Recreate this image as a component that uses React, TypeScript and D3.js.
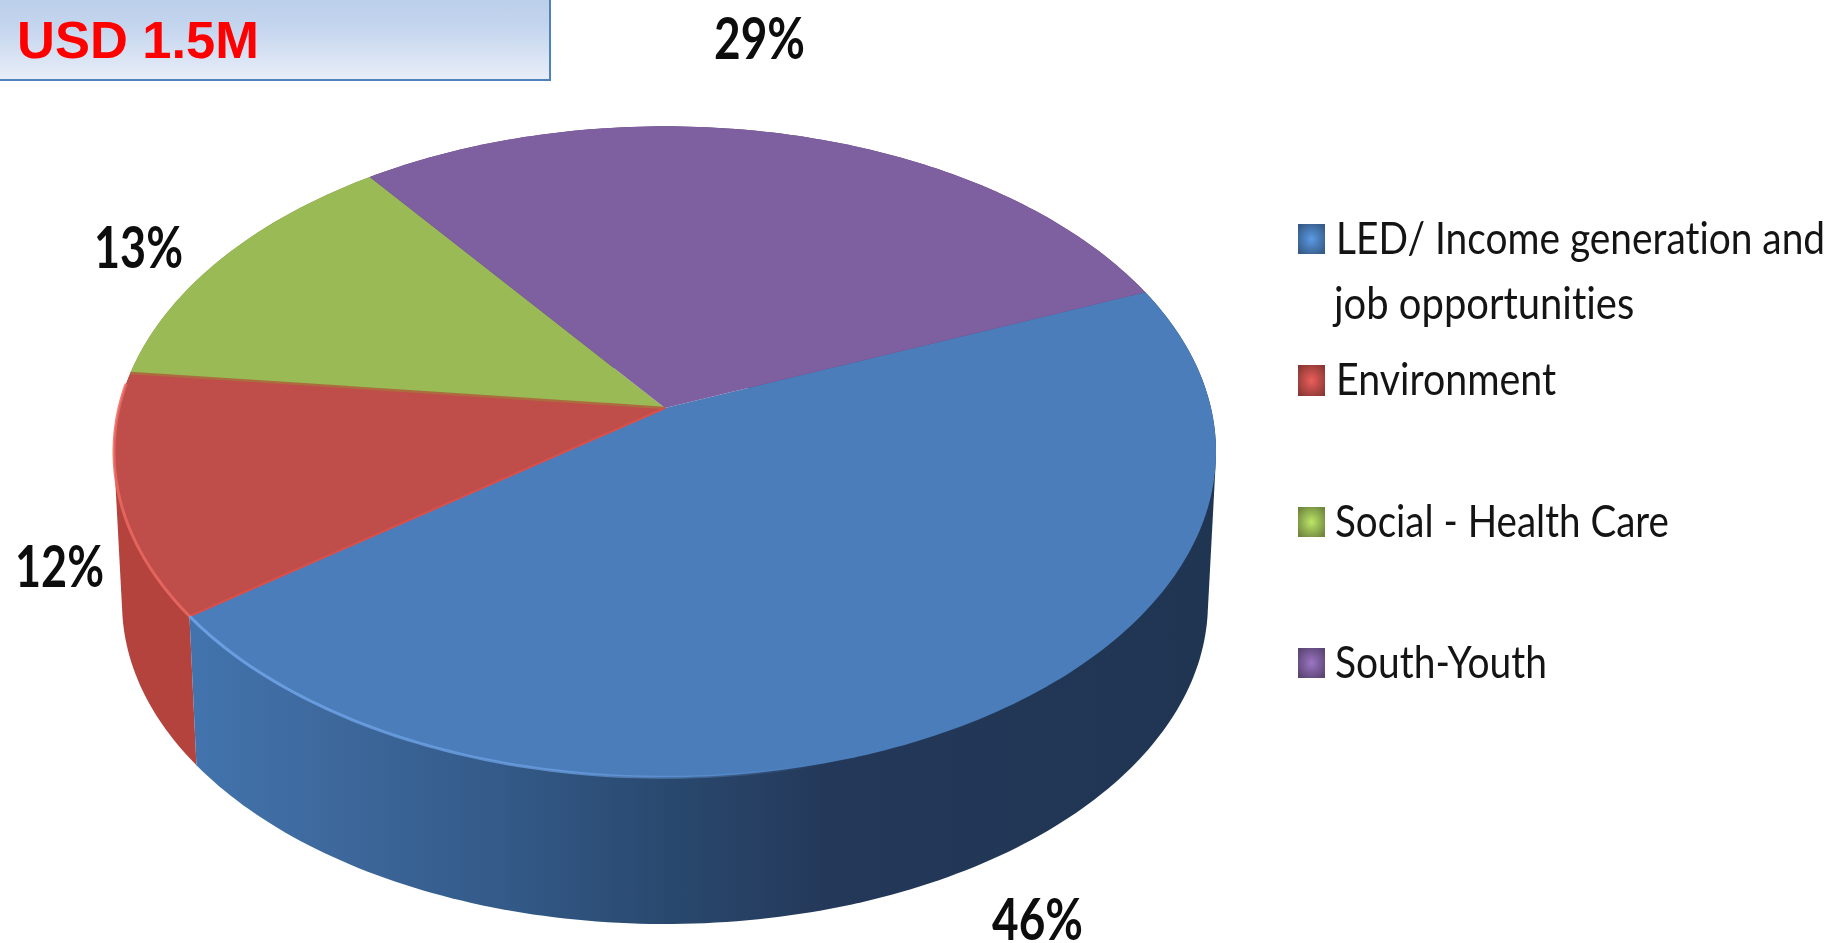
import * as d3 from "d3";

// Chart data
const categories = ["LED/ Income generation and job opportunities", "Environment", "Social - Health Care", "South-Youth"];
const shares = [46, 12, 13, 29];
const shareLabels = ["46%", "12%", "13%", "29%"];
const faceColors = ["#4a7dba", "#bf4d49", "#99ba55", "#7e5f9f"];
const wallColors = ["url(#blueWall)", "#b4433e", "#7a9444", "#63497f"];
const rimColors = ["#6fa3e6", "#ea6a62"];
const legendLines = [["LED/ Income generation and", "job opportunities"], ["Environment"], ["Social - Health Care"], ["South-Youth"]];

// Layout (label: left x, baseline y, width)
const width = 1833;
const height = 943;
const labelBoxes = [
  [992, 940, 91],
  [15, 587, 89],
  [94, 268, 89],
  [714, 59, 91],
];
const legendRows = [
  { box: [1298, 224, 27, 30], text: [[1336, 254, 490], [1334, 319, 301]] },
  { box: [1298, 365, 27, 31], text: [[1336, 395, 220]] },
  { box: [1298, 507, 27, 30], text: [[1335, 537, 334]] },
  { box: [1298, 648, 27, 30], text: [[1335, 678, 212]] },
];

// The disc is seen in perspective: its centre is not the centre of the ellipse.
const tilt = 0.1346;
const top = { cx: 665, cy: 408, a: 546, b: 319.6 };
const bottom = { cx: 665, cy: 560, a: 538, b: 315 };

function project(angle: number, disc = top): [number, number] {
  const u = Math.sin(angle);
  const v = -Math.cos(angle);
  const w = 1 - tilt * v;
  return [disc.cx + (disc.a * u) / w, disc.cy + (disc.b * v) / w];
}

function arcPoints(a0: number, a1: number, disc = top): [number, number][] {
  const n = Math.max(2, Math.ceil(((a1 - a0) * 180) / Math.PI));
  return d3.range(n + 1).map((i) => project(a0 + ((a1 - a0) * i) / n, disc));
}

const slices = d3
  .pie<number>()
  .sort(null)
  .startAngle((67.6 * Math.PI) / 180)
  .endAngle((67.6 * Math.PI) / 180 + 2 * Math.PI)(shares);

const line = d3.line();
const deg = (d: number) => (d * Math.PI) / 180;

// Text in the picture is squeezed sideways, so scale each string to its measured width.
const ctx = document.createElement("canvas").getContext("2d")!;
function squeeze(text: string, font: string, target: number) {
  ctx.font = font;
  return target / ctx.measureText(text).width;
}

function FitText(props: { text: string; x: number; y: number; w: number; size: number; bold?: boolean; fill: string }) {
  const { text, x, y, w, size, bold, fill } = props;
  const family = "Lato";
  const weight = bold ? "bold" : "normal";
  const sx = squeeze(text, `${weight} ${size}px ${family}`, w);
  return (
    <text
      transform={`translate(${x},${y}) scale(${sx},1)`}
      fontFamily={family}
      fontWeight={weight}
      fontSize={size}
      fill={fill}
      style={{ fontVariantLigatures: "none", fontKerning: "normal" }}
    >
      {text}
    </text>
  );
}

export default function App() {
  const blue = slices[0];
  const red = slices[1];
  return (
    <svg
      width={width}
      height={height}
      viewBox={`0 0 ${width} ${height}`}
      style={{ position: "absolute", left: 0, top: 0, display: "block", background: "#fff" }}
    >
      <defs>
        <filter id="soft" x="-5%" y="-5%" width="110%" height="110%" colorInterpolationFilters="sRGB">
          <feGaussianBlur stdDeviation="0.6" />
        </filter>
        <linearGradient id="banner" x1="0" y1="0" x2="0" y2="1">
          <stop offset="0" stopColor="#bbcfea" />
          <stop offset="0.35" stopColor="#c4d5ee" />
          <stop offset="1" stopColor="#e8eef8" />
        </linearGradient>
        <linearGradient id="blueWall" gradientUnits="userSpaceOnUse" x1="200" y1="0" x2="1210" y2="0">
          <stop offset="0" stopColor="#4273ac" />
          <stop offset="0.16" stopColor="#3c6699" />
          <stop offset="0.3" stopColor="#335a88" />
          <stop offset="0.45" stopColor="#2a4a70" />
          <stop offset="0.62" stopColor="#24395a" />
          <stop offset="1" stopColor="#203552" />
        </linearGradient>
        <linearGradient id="blueRim" gradientUnits="userSpaceOnUse" x1="200" y1="0" x2="820" y2="0">
          <stop offset="0" stopColor={rimColors[0]} stopOpacity="0.9" />
          <stop offset="0.6" stopColor={rimColors[0]} stopOpacity="0.7" />
          <stop offset="1" stopColor={rimColors[0]} stopOpacity="0" />
        </linearGradient>
        {faceColors.map((c, i) => (
          <radialGradient key={c} id={`swatch${i}`} cx="0.5" cy="0.5" r="0.62">
            <stop offset="0" stopColor={d3.color(c)!.brighter(0.6).formatHex()} />
            <stop offset="0.45" stopColor={c} />
            <stop offset="1" stopColor={d3.color(c)!.darker(0.9).formatHex()} />
          </radialGradient>
        ))}
      </defs>

      {/* header box */}
      <rect x={-2} y={-2} width={552} height={82} fill="url(#banner)" stroke="#4f81bd" strokeWidth={2} />
      <text x={17} y={58} fontFamily="Liberation Sans" fontWeight="bold" fontSize={52} fill="#fe0000" textLength={242} lengthAdjust="spacingAndGlyphs">
        USD 1.5M
      </text>

      <g filter="url(#soft)">
        {/* side walls, back ones first */}
        {[3, 2, 1, 0].map((i) => {
          const s = slices[i];
          const pts = [...arcPoints(s.startAngle, s.endAngle), ...arcPoints(s.startAngle, s.endAngle, bottom)];
          const hull = d3.polygonHull(pts)!;
          return <path key={categories[i]} d={line(hull)! + "Z"} fill={wallColors[i]} />;
        })}

        {/* top faces */}
        {slices.map((s, i) => (
          <path
            key={categories[i]}
            d={line([[top.cx, top.cy], ...arcPoints(s.startAngle, s.endAngle)])! + "Z"}
            fill={faceColors[i]}
          />
        ))}

        {/* slice seams and rim highlight */}
        <path d={line([[top.cx, top.cy], project(slices[2].startAngle)])!} stroke="#ad6b40" strokeWidth={2.5} fill="none" />
        <path d={line([[top.cx, top.cy], project(slices[1].startAngle)])!} stroke="#d94f4a" strokeWidth={2} fill="none" />
        <path d={line(arcPoints(deg(150), blue.endAngle))!} stroke="url(#blueRim)" strokeWidth={3} fill="none" />
        <path d={line(arcPoints(red.startAngle, red.endAngle - deg(2)))!} stroke={rimColors[1]} strokeWidth={3} opacity={0.85} fill="none" />

        {/* share labels */}
        {shareLabels.map((t, i) => (
          <FitText key={t} text={t} x={labelBoxes[i][0]} y={labelBoxes[i][1]} w={labelBoxes[i][2]} size={57} bold fill="#0d0d0d" />
        ))}

        {/* legend */}
        {legendRows.map((row, i) => (
          <g key={categories[i]}>
            <rect x={row.box[0]} y={row.box[1]} width={row.box[2]} height={row.box[3]} fill={`url(#swatch${i})`} />
            {row.text.map((p, j) => (
              <FitText key={legendLines[i][j]} text={legendLines[i][j]} x={p[0]} y={p[1]} w={p[2]} size={45} fill="#141414" />
            ))}
          </g>
        ))}
      </g>
    </svg>
  );
}
